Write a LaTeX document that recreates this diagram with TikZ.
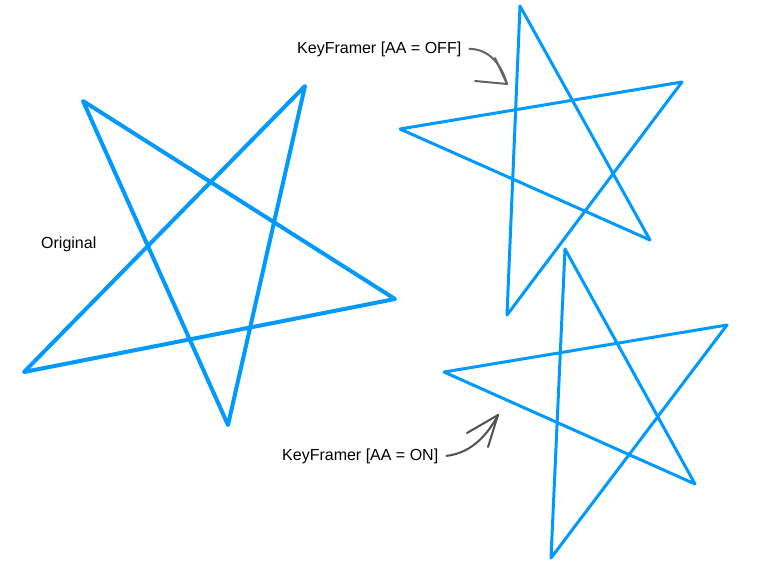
\documentclass[tikz,border=0pt]{standalone}
\usepackage{fontspec}
\setmainfont{Liberation Sans}
\definecolor{starblue}{RGB}{0,153,255}
\definecolor{pengray}{RGB}{100,100,100}
\begin{document}
\begin{tikzpicture}[x=1pt, y=-1pt,
  starline/.style={color=starblue, line join=round, line cap=round},
  label/.style={inner sep=0pt, anchor=base west, font=\fontsize{16}{18}\selectfont},
  pen/.style={color=pengray, line width=2pt, line cap=round, line join=round}]
\useasboundingbox (0,0) rectangle (768,576);

% original
\coordinate (O1) at (83,101);
\coordinate (O2) at (228,425);
\coordinate (O3) at (305,86);
\coordinate (O4) at (24,372);
\coordinate (O5) at (395,299);
\draw [starline, line width=4pt] (O1) -- (O2) -- (O3) -- (O4) -- (O5) -- cycle;
\node [label] (orig) at (41,248) {Original};

% AA off
\coordinate (F1) at (520,6);
\coordinate (F2) at (650,240);
\coordinate (F3) at (400,129);
\coordinate (F4) at (682,82);
\coordinate (F5) at (507,315);
\draw [starline, line width=3pt] (F1) -- (F2) -- (F3) -- (F4) -- (F5) -- cycle;
\node [label] (off) at (297,53) {KeyFramer [AA = OFF]};

% AA on
\coordinate (N1) at (565,249);
\coordinate (N2) at (695,484);
\coordinate (N3) at (444,372);
\coordinate (N4) at (727,325);
\coordinate (N5) at (551,558);
\draw [starline, line width=3pt] (N1) -- (N2) -- (N3) -- (N4) -- (N5) -- cycle;
\node [label] (on) at (282,460) {KeyFramer [AA = ON]};

% pen arrows
\coordinate (tipoff) at (507,84);
\draw [pen] ([xshift=8pt]off.east) .. controls (490,49) and (502,66) .. (tipoff);
\draw [pen] (tipoff) -- ++(-12,-26);
\draw [pen] (tipoff) -- ++(-32,-3);

\coordinate (tipon) at (498,415);
\draw [pen, color=pengray!80!black] ([xshift=8pt]on.east) .. controls (472,453) and (488,434) .. (tipon);
\draw [pen, color=pengray!80!black] (tipon) -- ++(-31,18);
\draw [pen, color=pengray!80!black] (tipon) -- ++(-10,32);
\end{tikzpicture}
\end{document}
